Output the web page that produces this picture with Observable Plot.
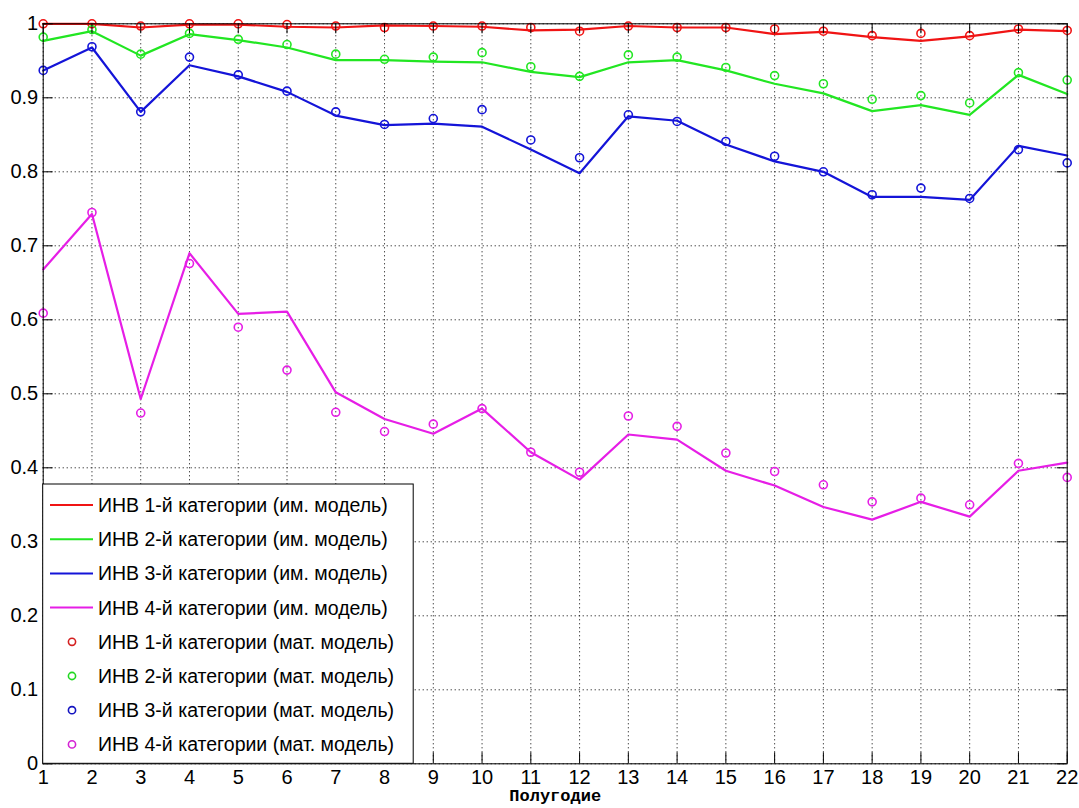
<!DOCTYPE html>
<html>
<head>
<meta charset="utf-8">
<script src="https://cdn.jsdelivr.net/npm/d3@7"></script>
<script src="https://cdn.jsdelivr.net/npm/@observablehq/plot@0.6"></script>
<style>
html, body { margin: 0; padding: 0; background: #fff; }
#chart { width: 1079px; height: 808px; }
</style>
</head>
<body>
<div id="chart"></div>
<script>
// ---- data ----
const halfYears = [1,2,3,4,5,6,7,8,9,10,11,12,13,14,15,16,17,18,19,20,21,22];

const im1  = [1.000,1.000,0.995,0.999,0.999,0.996,0.995,0.998,0.997,0.996,0.991,0.992,0.997,0.995,0.995,0.986,0.989,0.982,0.977,0.983,0.992,0.990];
const im2  = [0.977,0.990,0.957,0.986,0.978,0.968,0.951,0.951,0.949,0.948,0.935,0.928,0.948,0.951,0.937,0.919,0.906,0.882,0.890,0.877,0.931,0.905];
const im3  = [0.937,0.968,0.881,0.944,0.929,0.908,0.876,0.863,0.865,0.861,0.830,0.798,0.875,0.869,0.837,0.814,0.800,0.766,0.766,0.762,0.835,0.822];
const im4  = [0.668,0.743,0.493,0.690,0.608,0.611,0.502,0.466,0.446,0.480,0.421,0.384,0.445,0.438,0.396,0.376,0.347,0.330,0.354,0.334,0.396,0.407];

const mat1 = [1.000,1.000,0.997,1.000,1.000,0.999,0.997,0.995,0.997,0.997,0.995,0.990,0.997,0.995,0.995,0.993,0.990,0.984,0.987,0.984,0.993,0.991];
const mat2 = [0.982,0.992,0.959,0.987,0.979,0.972,0.959,0.952,0.955,0.961,0.942,0.929,0.958,0.955,0.941,0.930,0.919,0.898,0.903,0.893,0.934,0.924];
const mat3 = [0.937,0.969,0.881,0.955,0.931,0.909,0.881,0.864,0.872,0.884,0.843,0.819,0.877,0.868,0.841,0.821,0.800,0.769,0.778,0.764,0.830,0.812];
const mat4 = [0.609,0.745,0.474,0.676,0.590,0.532,0.475,0.449,0.459,0.480,0.421,0.394,0.470,0.456,0.420,0.395,0.377,0.354,0.359,0.350,0.406,0.387];

const xTicks = [1,2,3,4,5,6,7,8,9,10,11,12,13,14,15,16,17,18,19,20,21,22];
const yTicks = [0,0.1,0.2,0.3,0.4,0.5,0.6,0.7,0.8,0.9,1];
const yTickLabels = ["0","0.1","0.2","0.3","0.4","0.5","0.6","0.7","0.8","0.9","1"];

const lineLabels = [
  "ИНВ 1-й категории (им. модель)",
  "ИНВ 2-й категории (им. модель)",
  "ИНВ 3-й категории (им. модель)",
  "ИНВ 4-й категории (им. модель)"
];
const dotLabels = [
  "ИНВ 1-й категории (мат. модель)",
  "ИНВ 2-й категории (мат. модель)",
  "ИНВ 3-й категории (мат. модель)",
  "ИНВ 4-й категории (мат. модель)"
];
const xLabel = "Полугодие";

const colors = ["#f01414", "#22e622", "#1414d8", "#e61ee6"];
const legendDotColors = ["#d42020", "#22d822", "#1414c0", "#d422d4"];

// ---- tables ----
const imSeries = [im1, im2, im3, im4];
const matSeries = [mat1, mat2, mat3, mat4];
const toRows = (arr) => halfYears.map((x, i) => ({x, v: arr[i]}));

const W = 1079, H = 808;
const mL = 42.7, mR = 12.3, mT = 23.3, mB = 44.7;
const plotW = W - mL - mR, plotH = H - mT - mB;

const yLabelMap = new Map(yTicks.map((t, i) => [t, yTickLabels[i]]));
const font = "'Liberation Sans', Arial, Helvetica, sans-serif";

const marks = [
  Plot.gridX(xTicks, {stroke: "#000", strokeOpacity: 1, strokeDasharray: "1,3", strokeWidth: 1}),
  Plot.gridY(yTicks, {stroke: "#000", strokeOpacity: 1, strokeDasharray: "1,3", strokeWidth: 1}),
];
imSeries.forEach((s, i) => {
  marks.push(Plot.line(toRows(s), {x: "x", y: "v", stroke: colors[i], strokeWidth: 2.2}));
});
matSeries.forEach((s, i) => {
  marks.push(Plot.dot(toRows(s), {x: "x", y: "v", r: 4, stroke: colors[i], strokeWidth: 1.6, fill: "none"}));
});
marks.push(
  // inward ticks (MATLAB style) on all four sides
  Plot.tickX(xTicks, {x: d => d, insetTop: plotH - 11, stroke: "#000"}),
  Plot.tickX(xTicks, {x: d => d, insetBottom: plotH - 10, stroke: "#000"}),
  Plot.tickY(yTicks, {y: d => d, insetRight: plotW - 10, stroke: "#000"}),
  Plot.tickY(yTicks, {y: d => d, insetLeft: plotW - 10, stroke: "#000"}),
  Plot.frame({stroke: "#000", strokeWidth: 1}),
  Plot.axisX(xTicks, {tickSize: 0, tickPadding: 6, fontSize: 20, label: null, tickFormat: d => String(d)}),
  Plot.axisY(yTicks, {tickSize: 0, tickPadding: 5, fontSize: 20, label: null, tickFormat: d => yLabelMap.get(d)}),
  Plot.text([xLabel], {frameAnchor: "bottom", dy: 37, text: d => d, fontFamily: "'Liberation Mono', 'Courier New', monospace", fontWeight: "bold", fontSize: 17, fill: "#000"})
);

const svg = Plot.plot({
  width: W,
  height: H,
  marginLeft: mL,
  marginRight: mR,
  marginTop: mT,
  marginBottom: mB,
  style: {fontFamily: font, fontSize: "20px", background: "#fff", color: "#000", overflow: "visible"},
  x: {domain: [1, 22]},
  y: {domain: [0, 1]},
  marks
});

// ---- legend box (MATLAB style, lower-left inside axes) ----
const g = d3.select(svg).append("g")
  .attr("font-family", font)
  .attr("font-size", 19.5)
  .attr("text-anchor", "start");
const boxX = mL, boxY = 484, boxW = 370.5, boxH = (mT + plotH) - 484;
g.append("rect").attr("x", boxX).attr("y", boxY).attr("width", boxW).attr("height", boxH)
  .attr("fill", "#fff").attr("stroke", "#000").attr("stroke-width", 1);
const rowY0 = 505, rowStep = 34.2;
lineLabels.forEach((lab, i) => {
  const y = rowY0 + i * rowStep;
  g.append("line").attr("x1", 50).attr("x2", 93).attr("y1", y).attr("y2", y)
    .attr("stroke", colors[i]).attr("stroke-width", 2);
  g.append("text").attr("x", 98).attr("y", y).attr("dy", "0.36em")
    .attr("text-anchor", "start").attr("fill", "#000").text(lab);
});
dotLabels.forEach((lab, i) => {
  const y = rowY0 + (i + 4) * rowStep;
  g.append("circle").attr("cx", 72).attr("cy", y).attr("r", 3.6)
    .attr("fill", "none").attr("stroke", legendDotColors[i]).attr("stroke-width", 1.6);
  g.append("text").attr("x", 98).attr("y", y).attr("dy", "0.36em")
    .attr("text-anchor", "start").attr("fill", "#000").text(lab);
});

document.getElementById("chart").appendChild(svg);
</script>
</body>
</html>
